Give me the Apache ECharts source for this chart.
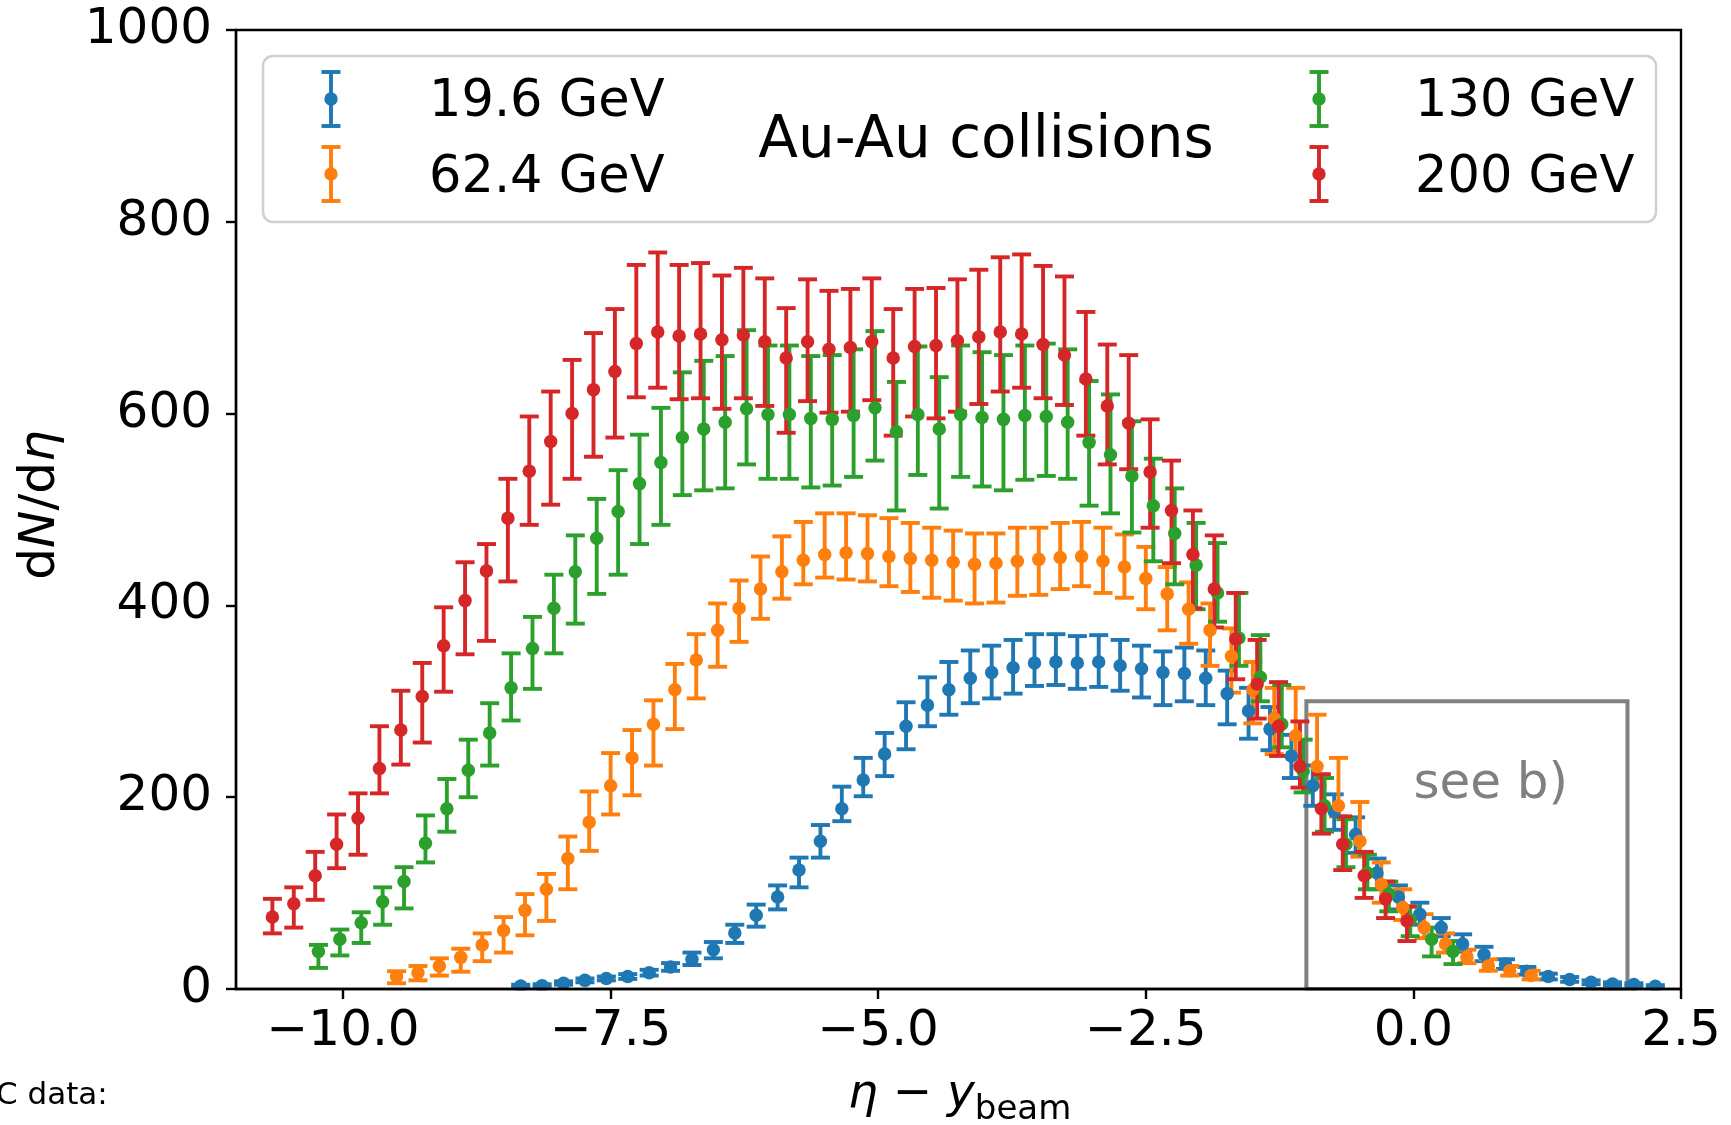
<!DOCTYPE html>
<html>
<head>
<meta charset="utf-8">
<title>dN/dη vs η − y_beam, Au-Au</title>
<script src="https://cdn.jsdelivr.net/npm/echarts@6/dist/echarts.min.js"></script>
<style>
  html, body { margin: 0; padding: 0; background: #ffffff; }
  #chart { width: 1731px; height: 1125px; }
</style>
</head>
<body>
<div id="chart"></div>
<script>
// Pseudorapidity bin centres (same binning for every beam energy)
const etaBins = [-5.3,-5.1,-4.9,-4.7,-4.5,-4.3,-4.1,-3.9,-3.7,-3.5,-3.3,-3.1,-2.9,-2.7,-2.5,-2.3,-2.1,-1.9,-1.7,-1.5,
  -1.3,-1.1,-0.9,-0.7,-0.5,-0.3,-0.1,0.1,0.3,0.5,0.7,0.9,1.1,1.3,1.5,1.7,1.9,2.1,2.3,2.5,
  2.7,2.9,3.1,3.3,3.5,3.7,3.9,4.1,4.3,4.5,4.7,4.9,5.1,5.3];

const energies = ['19.6 GeV', '62.4 GeV', '130 GeV', '200 GeV'];
// beam rapidity for each energy, used to shift eta into the beam rest frame
const beamRapidity = [3.04, 4.20, 4.93, 5.36];

// dN/deta with upper and lower ends of the error bars
const dndeta196 = [3,3.5,6,9,11,13,17,23,31,41,58.5,77,96,124,154,188,218,245,274,296,312,324,330,335,340,341,340,341,337,334,330,329,324,308,290,271,243,212,185,161,121,96,78,64,47,36,26,18.5,13,10,7,5.3,4.6,2.8];
const upper196  = [4.5,5,8,11,13,15.5,20,27,38,49,67,88,108,137,171,211,241,267,299,325,341,353,358,364,370,370,368,369,364,358,352,356,353,332,314,294,265,233,203,179,136,108,90,74,57,44,31,23,16,12.5,9,7,6,4];
const lower196  = [1.5,2,4.5,7,9,10.5,14,19,25,32,48,65,83,106,137,175,201,222,250,274,286,298,303,308,316,317,313,315,311,304,296,300,296,276,261,249,220,191,166,142,104,83,67,55,39,29,21,15,10,7.5,5,4,3,1.5];

const dndeta624 = [13,17,24,33,46,61,82,104,136,174,212,241,276,312,343,374,397,417,435,447,453,455,454,451,449,447,445,443,444,446,448,450,451,446,440,428,412,396,374,347,312,282,264,232,191,154,109,85,64,47,33,24,19,14];
const upper624  = [18.5,24,32,42,58,75,99,120,159,206,246,270,301,339,370,402,426,451,472,487,496,496,494,491,486,481,478,475,475,481,481,486,487,481,474,461,440,424,402,376,341,314,314,286,241,195,132,104,78,58,41,31,24,19];
const lower624  = [6,9,14,18,29,38,56,71,104,144,182,202,233,271,303,336,362,386,407,422,429,427,425,420,414,408,405,402,403,410,411,417,420,413,408,396,374,360,337,309,277,245,240,212,180,138,90,72,53,38,27,19,14,10];

const dndeta130 = [39,52,69,91,112,152,188,228,267,314,355,397,435,470,498,527,549,575,584,591,605,599,599,595,594,598,606,581,599,584,599,596,594,598,597,591,570,557,535,504,475,442,413,366,325,276,227,191,151,121,99,72,52,39];
const upper130  = [46,62,80,106,127,181,219,260,298,350,388,432,473,511,541,578,606,643,655,660,687,671,671,660,661,667,686,633,670,638,671,664,661,671,673,667,634,620,592,553,522,486,465,413,369,317,260,220,177,140,112,86,64,50];
const lower130  = [22,35,48,67,84,132,164,200,233,280,313,350,381,412,432,464,484,515,520,522,547,532,532,523,525,534,551,499,536,501,534,524,520,531,535,532,504,496,476,446,422,396,383,337,300,252,205,164,127,104,81,55,34,26];

const dndeta200 = [75,89,118,151,178,230,270,305,358,405,436,491,540,571,600,625,644,673,685,681,683,677,682,675,658,675,667,669,675,658,670,671,676,680,685,683,672,661,636,608,590,539,499,453,417,365,318,274,232,188,151,118,94,71];
const upper200  = [94,106,143,182,204,274,311,340,398,445,464,532,597,623,656,684,709,755,768,755,757,744,752,741,710,740,728,730,741,709,730,731,740,750,763,766,754,743,706,672,661,594,551,499,473,413,364,320,279,224,180,143,112,86];
const lower200  = [58,64,93,126,140,204,234,257,310,349,363,425,484,505,532,555,575,617,627,615,616,605,616,608,580,613,601,602,614,577,597,595,602,610,623,627,616,609,577,547,542,481,444,397,377,323,282,243,210,162,124,95,74,50];

const values = [dndeta196, dndeta624, dndeta130, dndeta200];
const uppers = [upper196, upper624, upper130, upper200];
const lowers = [lower196, lower624, lower130, lower200];

const xTicks = [-10, -7.5, -5, -2.5, 0, 2.5];
// region shown in detail in panel b): [xmin, ymin, xmax, ymax]
const detailBox = [[-1, 0, 2, 300]];

const colors = ['#1f77b4', '#ff7f0e', '#2ca02c', '#d62728'];
const FONT = 'DejaVu Sans';

function seriesPoints(k) {
  return etaBins.map((eta, i) => [
    Math.round((eta - beamRapidity[k]) * 100) / 100,
    values[k][i], uppers[k][i], lowers[k][i]
  ]);
}

function renderErrorBar(params, api) {
  const x = api.value(0);
  const hi = api.coord([x, api.value(2)]);
  const lo = api.coord([x, api.value(3)]);
  const hw = 9.5;
  const style = { stroke: api.visual('color'), lineWidth: 3.9 };
  return {
    type: 'group',
    children: [
      { type: 'line', shape: { x1: hi[0], y1: hi[1], x2: lo[0], y2: lo[1] }, style: style },
      { type: 'line', shape: { x1: hi[0] - hw, y1: hi[1], x2: hi[0] + hw, y2: hi[1] }, style: style },
      { type: 'line', shape: { x1: lo[0] - hw, y1: lo[1], x2: lo[0] + hw, y2: lo[1] }, style: style }
    ]
  };
}

function renderDetailBox(params, api) {
  const tl = api.coord([api.value(0), api.value(3)]);
  const br = api.coord([api.value(2), api.value(1)]);
  const label = api.coord([0, 213]);
  return {
    type: 'group',
    children: [
      { type: 'rect', shape: { x: tl[0], y: tl[1], width: br[0] - tl[0], height: br[1] - tl[1] },
        style: { fill: 'none', stroke: '#808080', lineWidth: 4 } },
      { type: 'text', x: label[0], y: label[1],
        style: { text: 'see b)', fontSize: 50, fontFamily: FONT, fill: '#808080',
                 align: 'left', verticalAlign: 'middle' } }
    ]
  };
}

const series = [];
series.push({
  type: 'custom', name: 'detail', data: detailBox, z: 1, silent: true,
  encode: { x: [0, 2], y: [1, 3] }, renderItem: renderDetailBox
});
energies.forEach((name, k) => {
  series.push({
    type: 'custom', name: name + ' err', data: seriesPoints(k), z: 2,
    itemStyle: { color: colors[k] }, encode: { x: 0, y: [1, 2, 3] },
    renderItem: renderErrorBar
  });
});
energies.forEach((name, k) => {
  series.push({
    type: 'scatter', name: name, data: seriesPoints(k).map(p => [p[0], p[1]]), z: 3,
    symbol: 'circle', symbolSize: 13.5, itemStyle: { color: colors[k], opacity: 1 }
  });
});

function fmtTick(v) {
  return (v < 0 ? '\u2212' : '') + Math.abs(v).toFixed(1);
}

// legend drawn as a framed box: two columns of entries with the collision system in the middle
const legendRows = [
  { x: 331, tx: 429, y: 99, ty: 103 }, { x: 331, tx: 429, y: 174, ty: 179 },
  { x: 1319, tx: 1415, y: 99, ty: 103 }, { x: 1319, tx: 1415, y: 174, ty: 179 }
];
const legendChildren = [
  { type: 'rect', shape: { x: 263, y: 56, width: 1393, height: 166, r: 10 },
    style: { fill: 'rgba(255,255,255,0.8)', stroke: '#d0d0d0', lineWidth: 2.5 } },
  { type: 'text', x: 986, y: 142,
    style: { text: 'Au-Au collisions', fontSize: 58, fontFamily: FONT, fill: '#000', align: 'center', verticalAlign: 'middle' } }
];
energies.forEach((name, k) => {
  const r = legendRows[k];
  const st = { stroke: colors[k], lineWidth: 3.9 };
  legendChildren.push(
    { type: 'line', shape: { x1: r.x, y1: r.y - 27, x2: r.x, y2: r.y + 27 }, style: st },
    { type: 'line', shape: { x1: r.x - 9.5, y1: r.y - 27, x2: r.x + 9.5, y2: r.y - 27 }, style: st },
    { type: 'line', shape: { x1: r.x - 9.5, y1: r.y + 27, x2: r.x + 9.5, y2: r.y + 27 }, style: st },
    { type: 'circle', shape: { cx: r.x, cy: r.y, r: 6.7 }, style: { fill: colors[k] } },
    { type: 'text', x: r.tx, y: r.ty,
      style: { text: name, fontSize: 51, fontFamily: FONT, fill: '#000', align: 'left', verticalAlign: 'middle' } }
  );
});

const option = {
  animation: false,
  backgroundColor: '#ffffff',
  textStyle: { fontFamily: FONT },
  grid: { left: 236, right: 50, top: 30, bottom: 136, show: true, borderColor: '#000', borderWidth: 2.4, z: 5 },
  xAxis: {
    type: 'value', min: -11, max: 2.5, z: 6,
    axisLine: { show: true, onZero: false, lineStyle: { color: '#000', width: 2.4 } },
    axisTick: { show: true, customValues: xTicks, length: 10, inside: false, lineStyle: { color: '#000', width: 2.4 } },
    axisLabel: { customValues: xTicks, formatter: fmtTick, fontSize: 50, color: '#000', margin: 18, fontFamily: FONT },
    splitLine: { show: false }
  },
  yAxis: {
    type: 'value', min: 0, max: 1000, interval: 200, z: 6,
    axisLine: { show: true, onZero: false, lineStyle: { color: '#000', width: 2.4 } },
    axisTick: { show: true, length: 10, inside: false, lineStyle: { color: '#000', width: 2.4 } },
    axisLabel: { fontSize: 50, color: '#000', margin: 24, fontFamily: FONT, formatter: v => String(v) },
    splitLine: { show: false }
  },
  series: series,
  graphic: [
    // masks marker overflow below the x axis (points are clipped to the plot frame)
    { type: 'rect', z: 4, silent: true, shape: { x: 236, y: 990.5, width: 1446, height: 14 }, style: { fill: '#ffffff' } },
    { type: 'group', z: 10, children: legendChildren },
    { type: 'text', z: 10, x: 41, y: 505, rotation: Math.PI / 2,
      style: { text: '{r|d}{i|N}{r|/d}{i|η}', align: 'center', verticalAlign: 'middle', fill: '#000',
               rich: { r: { fontSize: 50, fontFamily: FONT }, i: { fontSize: 50, fontFamily: FONT, fontStyle: 'italic' } } } },
    { type: 'text', z: 10, x: 848, y: 1095,
      style: { text: '{i|η}{r| \u2212 }{i|y}{s|beam}', align: 'left', verticalAlign: 'middle', fill: '#000',
               rich: { r: { fontSize: 47, fontFamily: FONT }, i: { fontSize: 47, fontFamily: FONT, fontStyle: 'italic' },
                       s: { fontSize: 34, fontFamily: FONT, padding: [30, 0, 0, 0] } } } },
    { type: 'text', z: 10, x: -4, y: 1096,
      style: { text: 'C data:', fontSize: 31, fontFamily: FONT, fill: '#000', align: 'left', verticalAlign: 'middle' } }
  ]
};

const chart = echarts.init(document.getElementById('chart'), null, { renderer: 'canvas', width: 1731, height: 1125 });
chart.setOption(option);
</script>
</body>
</html>
